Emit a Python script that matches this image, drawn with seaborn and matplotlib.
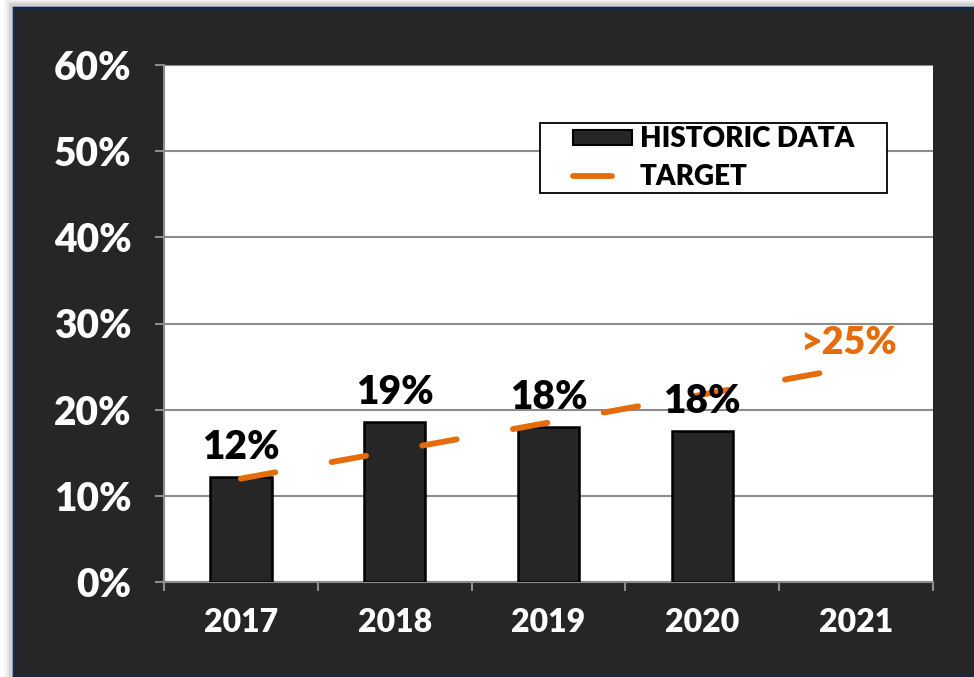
import matplotlib
matplotlib.use("Agg")
import matplotlib.pyplot as plt
import seaborn as sns
import numpy as np
import pandas as pd
from matplotlib.patches import Rectangle, Patch
from matplotlib.lines import Line2D
from matplotlib.legend_handler import HandlerLine2D

# ---- data ----
years = ["2017", "2018", "2019", "2020", "2021"]
hist_years = ["2017", "2018", "2019", "2020"]
hist_values = [12.2, 18.6, 18.0, 17.5]
hist_labels = ["12%", "19%", "18%", "18%"]
target_values = [12.0, 15.25, 18.5, 21.75, 25.0]
target_label = ">25%"
yticks = [0, 10, 20, 30, 40, 50, 60]
ytick_labels = ["0%", "10%", "20%", "30%", "40%", "50%", "60%"]

BG = "#262626"
ORANGE = "#E46C0A"
GRID = "#8c8c8c"
FONT = ["Lato", "DejaVu Sans"]

sns.set_theme(style="white")
plt.rcParams["font.family"] = FONT

fig = plt.figure(figsize=(9.74, 6.77), dpi=100)
fig.patch.set_facecolor("white")

# shadow + dark frame
for i, a in enumerate([0.08, 0.12, 0.18, 0.25]):
    off = (4 - i) * 2.5
    fig.patches.append(Rectangle(((14 - off) / 974, 0), 1.0, (669 + off) / 677,
                                 transform=fig.transFigure, facecolor="#7f7f7f",
                                 alpha=a, edgecolor="none", zorder=0))
fig.patches.append(Rectangle((14 / 974, 1 / 677), 1.0, 668 / 677,
                             transform=fig.transFigure, facecolor=BG,
                             edgecolor="#14284a", linewidth=2.5, zorder=1))

ax = fig.add_axes([164 / 974, 1 - 582 / 677, 769 / 974, 517 / 677])
ax.set_facecolor("white")
ax.set_zorder(2)

df = pd.DataFrame({"year": hist_years, "value": hist_values})
sns.barplot(data=df, x="year", y="value", order=years, color=BG,
            width=0.4, edgecolor="black", linewidth=1.8, saturation=1,
            ax=ax, zorder=3)

sns.lineplot(x=np.arange(len(years)), y=target_values, ax=ax, color=ORANGE,
             linewidth=4.2, zorder=4)
line = ax.lines[-1]
line.set_dashes((6.0, 9.8))
line.set_dash_capstyle("round")

ax.bar_label(ax.containers[0], labels=hist_labels, padding=8, fontsize=28,
             fontweight="heavy", color="black", zorder=5)

ax.text(3.95, 27.7, target_label, ha="center", va="center", fontsize=27,
        fontweight="heavy", color=ORANGE, zorder=5)

ax.set_xlim(-0.5, 4.5)
ax.set_ylim(0, 60)
ax.set_yticks(yticks)
ax.set_yticklabels(ytick_labels)
ax.set_xticks(np.arange(-0.5, 5.0, 1.0))
ax.set_xticklabels([])
ax.set_xticks(np.arange(len(years)), minor=True)
ax.set_xticklabels(years, minor=True)
ax.set_xlabel("")
ax.set_ylabel("")

ax.yaxis.grid(True, color=GRID, linewidth=1.5, zorder=0)
ax.set_axisbelow(True)
for s in ["top", "right"]:
    ax.spines[s].set_visible(False)
for s in ["left", "bottom"]:
    ax.spines[s].set_color(GRID)
    ax.spines[s].set_linewidth(1.5)

ax.tick_params(axis="y", which="major", direction="out", length=6.5, width=1.5,
               color=GRID, left=True, pad=17, labelsize=28, labelcolor="white")
ax.tick_params(axis="x", which="major", direction="out", length=6.5, width=1.5,
               color=GRID, bottom=True)
ax.tick_params(axis="x", which="minor", length=0, pad=19, labelsize=23,
               labelcolor="white", bottom=True)
for lab in ax.get_yticklabels() + ax.get_xticklabels(minor=True):
    lab.set_fontweight("heavy")


class ShortLine(HandlerLine2D):
    def create_artists(self, legend, orig_handle, xdescent, ydescent, width,
                       height, fontsize, trans):
        return super().create_artists(legend, orig_handle, xdescent, ydescent,
                                      width * 0.66, height, fontsize, trans)


# legend frame
ax.add_patch(Rectangle((0.489, 0.752), 0.451, 0.136, transform=ax.transAxes,
                       facecolor="white", edgecolor="black", linewidth=1.3,
                       zorder=6, clip_on=False))
line_handle = Line2D([0], [0], color=ORANGE, linewidth=4.2,
                     solid_capstyle="round")
handles = [Patch(facecolor=BG, edgecolor="black", linewidth=1.5), line_handle]
leg = ax.legend(handles, ["HISTORIC DATA", "TARGET"], loc="center",
                bbox_to_anchor=(0.715, 0.820), frameon=False, fontsize=20,
                handlelength=2.1, handleheight=0.45, handletextpad=0.3,
                borderpad=0.0, labelspacing=0.42, borderaxespad=0,
                handler_map={line_handle: ShortLine()})
leg.set_zorder(7)
for t in leg.get_texts():
    t.set_fontweight("heavy")
    t.set_color("black")

fig.savefig("out.png", dpi=100, facecolor=fig.get_facecolor())
